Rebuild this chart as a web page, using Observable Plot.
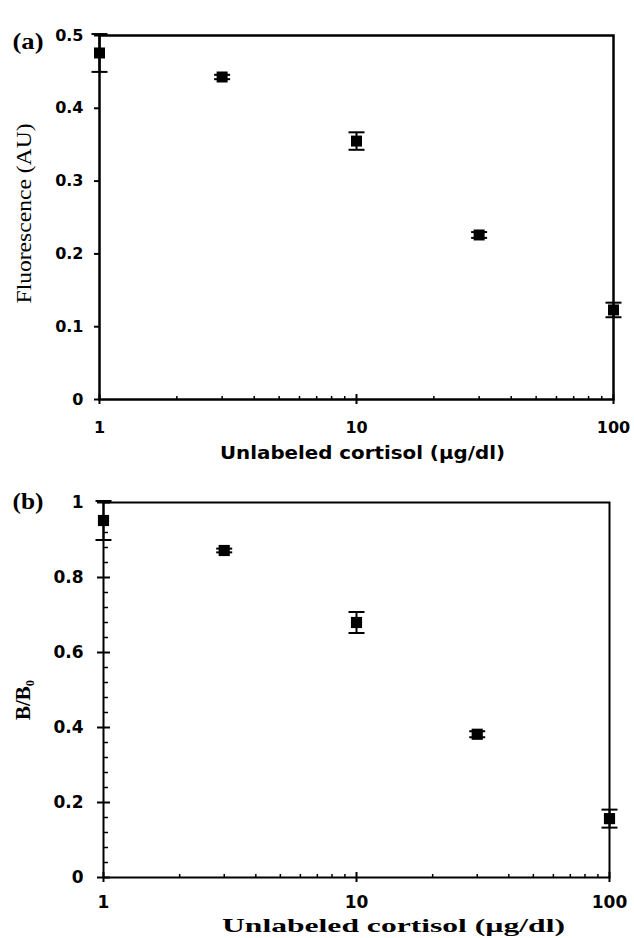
<!DOCTYPE html>
<html><head><meta charset="utf-8">
<script src="https://cdn.jsdelivr.net/npm/d3@7"></script>
<script src="https://cdn.jsdelivr.net/npm/@observablehq/plot@0.6"></script>
<style>
body{margin:0;background:#fff;}
#wrap{position:relative;width:634px;height:938px;overflow:hidden;}
#a,#b{position:absolute;left:0;}
#a{top:0;} #b{top:467px;}
</style></head><body>
<div id="wrap"><div id="a"></div><div id="b"></div></div>
<script>
// ---- data ----
const conc = [1, 3, 10, 30, 100];
const fluo = [0.476, 0.443, 0.355, 0.226, 0.123];
const fluoErr = [0.026, 0.003, 0.012, 0.004, 0.010];
const ratio = [0.952, 0.872, 0.680, 0.382, 0.157];
const ratioErr = [0.052, 0.005, 0.028, 0.008, 0.024];
const xTicks = [1, 10, 100];
const xMinor = [2, 3, 4, 5, 6, 7, 8, 9, 20, 30, 40, 50, 60, 70, 80, 90];
const yTicksA = [0, 0.1, 0.2, 0.3, 0.4, 0.5];
const yTicksB = [0, 0.2, 0.4, 0.6, 0.8, 1];
const yMinorB = [0.04, 0.08, 0.12, 0.16, 0.24, 0.28, 0.32, 0.36, 0.44, 0.48, 0.52, 0.56, 0.64, 0.68, 0.72, 0.76, 0.84, 0.88, 0.92, 0.96];
const xTitle = "Unlabeled cortisol (µg/dl)";
const yTitleA = "Fluorescence (AU)";
const yTitleB = "B/B₀";

const rowsA = conc.map((c, i) => ({x: c, y: fluo[i], lo: fluo[i] - fluoErr[i], hi: fluo[i] + fluoErr[i]}));
const rowsB = conc.map((c, i) => ({x: c, y: ratio[i], lo: ratio[i] - ratioErr[i], hi: ratio[i] + ratioErr[i]}));

const hline = {draw(ctx, size) { const h = Math.sqrt(size / Math.PI); ctx.moveTo(-h, 0); ctx.lineTo(h, 0); }};
const sans = "'DejaVu Sans', sans-serif";
const serif = "'Liberation Serif', 'DejaVu Serif', serif";
const fmt = d => String(d);

function points(rows, r) {
  return [
    Plot.ruleX(rows, {x: "x", y1: "lo", y2: "hi", stroke: "black", strokeWidth: 2}),
    Plot.dot(rows, {x: "x", y: "lo", symbol: hline, r: 8, stroke: "black", strokeWidth: 2}),
    Plot.dot(rows, {x: "x", y: "hi", symbol: hline, r: 8, stroke: "black", strokeWidth: 2}),
    Plot.dot(rows, {x: "x", y: "y", symbol: "square", r: r, fill: "black", stroke: "none"})
  ];
}

const A = Plot.plot({
  width: 634, height: 467,
  marginTop: 35, marginBottom: 68, marginLeft: 99, marginRight: 21,
  style: {background: "transparent", color: "black", fontFamily: sans, overflow: "visible"},
  x: {type: "log", domain: [1, 100]},
  y: {domain: [0, 0.5]},
  marks: [
    Plot.axisX(xMinor, {tickSize: -3, tickFormat: () => "", label: null, strokeWidth: 1.5}),
    Plot.axisX(xTicks, {tickSize: 5, tickFormat: () => "", label: null, strokeWidth: 2}),
    Plot.axisX(xTicks, {tickSize: -5, tickFormat: () => "", label: null, strokeWidth: 2}),
    Plot.axisX(xTicks, {tickSize: 0, tickPadding: 22, tickFormat: fmt, label: null, fontSize: 16, fontWeight: "bold"}),
    Plot.axisY(yTicksA, {tickSize: 5, tickPadding: 11, tickFormat: fmt, label: null, fontSize: 16, fontWeight: "bold", strokeWidth: 2}),
    Plot.frame({stroke: "black", strokeWidth: 2.5}),
    ...points(rowsA, 6.2),
    Plot.text([xTitle], {text: d => d, frameAnchor: "bottom", textAnchor: "middle", dx: 6, dy: 59, fontSize: 18, fontWeight: "bold", fontFamily: sans}),
    Plot.text([yTitleA], {text: d => d, frameAnchor: "left", textAnchor: "middle", rotate: -90, dx: -75, dy: -4, fontSize: 20, fontFamily: serif}),
    Plot.text(["(a)"], {text: d => d, frameAnchor: "top-left", textAnchor: "start", dx: -87, dy: -3, fontSize: 23, fontWeight: "bold", fontFamily: serif})
  ]
});

const B = Plot.plot({
  width: 634, height: 471,
  marginTop: 35, marginBottom: 61, marginLeft: 103, marginRight: 25,
  style: {background: "transparent", color: "black", fontFamily: sans, overflow: "visible"},
  x: {type: "log", domain: [1, 100]},
  y: {domain: [0, 1]},
  marks: [
    Plot.axisX(xMinor, {tickSize: -3, tickFormat: () => "", label: null, strokeWidth: 1.5}),
    Plot.axisX(xTicks, {tickSize: 5, tickFormat: () => "", label: null, strokeWidth: 2}),
    Plot.axisX(xTicks, {tickSize: -5, tickFormat: () => "", label: null, strokeWidth: 2}),
    Plot.axisX(xTicks, {tickSize: 0, tickPadding: 18, tickFormat: fmt, label: null, fontSize: 17, fontWeight: "bold"}),
    Plot.axisY(yMinorB, {tickSize: -5, tickFormat: () => "", label: null, strokeWidth: 1.5}),
    Plot.axisY(yTicksB, {tickSize: -7, tickFormat: () => "", label: null, strokeWidth: 2}),
    Plot.axisY(yTicksB, {tickSize: 6, tickPadding: 14, tickFormat: fmt, label: null, fontSize: 17, fontWeight: "bold", strokeWidth: 2}),
    Plot.frame({stroke: "black", strokeWidth: 2}),
    ...points(rowsB, 6.3),
    Plot.text([xTitle], {text: d => d, frameAnchor: "bottom", textAnchor: "middle", dx: 37, dy: 54, fontSize: 19, fontWeight: "bold", fontFamily: serif}),
    Plot.text([yTitleB], {text: d => d, frameAnchor: "left", textAnchor: "middle", rotate: -90, dx: -80, dy: 10, fontSize: 21, fontWeight: "bold", fontFamily: serif}),
    Plot.text(["(b)"], {text: d => d, frameAnchor: "top-left", textAnchor: "start", dx: -91, dy: -10, fontSize: 23, fontWeight: "bold", fontFamily: serif})
  ]
});

function stretch(svg, content, len) {
  svg.querySelectorAll("text").forEach(t => {
    if (t.textContent === content) {
      t.setAttribute("textLength", len);
      t.setAttribute("lengthAdjust", "spacingAndGlyphs");
    }
  });
}
stretch(A, xTitle, 285);
stretch(A, yTitleA, 180);
stretch(A, "(a)", 31);
stretch(B, xTitle, 343);
stretch(B, "(b)", 31);

document.getElementById("a").appendChild(A);
document.getElementById("b").appendChild(B);
</script>
</body></html>
